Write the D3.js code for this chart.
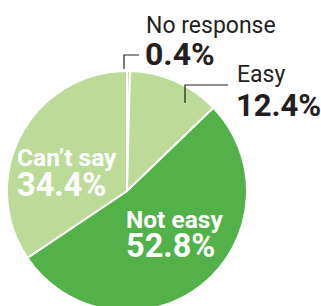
<!DOCTYPE html>
<html>
<head>
<meta charset="utf-8">
<script src="https://cdn.jsdelivr.net/npm/d3@7"></script>
<style>
  html, body { margin: 0; padding: 0; background: #fff; }
  svg { display: block; font-family: Roboto, "Liberation Sans", sans-serif; }
</style>
</head>
<body>
<svg id="chart" width="321" height="306"></svg>
<script>
//
// Data
//
var labels = ['No response', 'Easy', 'Not easy', "Can\u2019t say"]
var values = [0.4, 12.4, 52.8, 34.4]
var valueText = ['0.4%', '12.4%', '52.8%', '34.4%']

// colors
var colorLight = '#bcdb99'
var colorDark = '#53b14a'
var colorInk = '#231f20'

//
// Layout
//
var cx = 127, cy = 191, radius = 120

var svg = d3.select('#chart')
var g = svg.append('g').attr('transform', 'translate(' + cx + ',' + cy + ')')

var slices = labels.map(function (d, i) {
  return { label: d, value: values[i], text: valueText[i] }
})

var pie = d3.pie().sort(null).value(function (d) { return d.value })
var arc = d3.arc().innerRadius(0).outerRadius(radius)
var color = d3.scaleOrdinal()
  .domain(labels)
  .range([colorLight, colorLight, colorDark, colorLight])

var arcs = pie(slices)

g.selectAll('path.slice')
  .data(arcs)
  .enter().append('path')
  .attr('class', 'slice')
  .attr('d', arc)
  .attr('fill', function (d) { return color(d.data.label) })
  .attr('stroke', '#fff')
  .attr('stroke-width', 2)
  .attr('stroke-linejoin', 'round')

// outside labels with leader lines (the small slices)
// leader: [x, y at slice, y of elbow, x end]
var outside = [
  { i: 0, lx: 146, ly1: 33, ly2: 65, size: 32, leader: [124, cy - radius - 2, 55, 139] },
  { i: 1, lx: 237, ly1: 82, ly2: 116, size: 31, leader: [185, 103, 85, 228] }
]

outside.forEach(function (o) {
  var d = arcs[o.i].data
  var l = o.leader
  svg.append('path')
    .attr('d', d3.line()([[l[0], l[1]], [l[0], l[2]], [l[3], l[2]]]))
    .attr('fill', 'none')
    .attr('stroke', colorInk)
    .attr('stroke-width', 1.2)
  svg.append('text')
    .attr('x', o.lx).attr('y', o.ly1)
    .attr('fill', colorInk)
    .attr('font-size', 23)
    .attr('font-weight', 400)
    .text(d.label)
  svg.append('text')
    .attr('x', o.lx - 1).attr('y', o.ly2)
    .attr('fill', colorInk)
    .attr('font-size', o.size)
    .attr('font-weight', 700)
    .text(d.text)
})

// inside labels
var inside = [
  { i: 3, x: 17, y1: 166, y2: 196 },
  { i: 2, x: 126, y1: 228, y2: 257 }
]

inside.forEach(function (o) {
  var d = arcs[o.i].data
  svg.append('text')
    .attr('x', o.x).attr('y', o.y1)
    .attr('fill', '#fff')
    .attr('font-size', 24.5)
    .attr('font-weight', 700)
    .text(d.label)
  svg.append('text')
    .attr('x', o.x).attr('y', o.y2)
    .attr('fill', '#fff')
    .attr('font-size', 32.5)
    .attr('font-weight', 700)
    .text(d.text)
})
</script>
</body>
</html>
